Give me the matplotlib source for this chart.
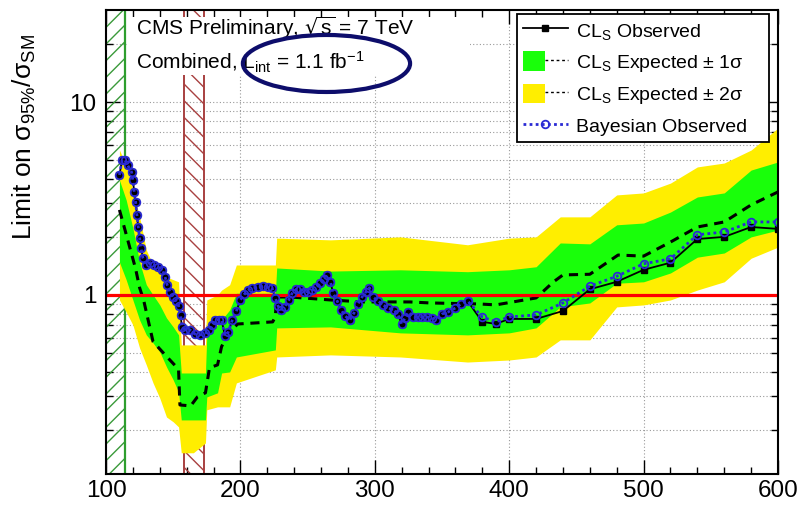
import matplotlib
matplotlib.use("Agg")
import matplotlib.pyplot as plt
from matplotlib.patches import Patch, Ellipse, Rectangle
from matplotlib.lines import Line2D
from matplotlib.legend_handler import HandlerTuple
from matplotlib.ticker import FixedLocator, NullFormatter, FixedFormatter

plt.rcParams['font.family'] = ['Liberation Sans', 'DejaVu Sans']
plt.rcParams['mathtext.default'] = 'regular'
plt.rcParams['hatch.linewidth'] = 1.0

# expected median limit
exp_mass = [110, 114, 118, 122, 125, 128, 131, 135, 144, 153, 154, 155, 163,
            168, 174, 177, 183, 186, 192, 198, 224, 226, 227, 237, 267, 291,
            326, 341, 378, 390, 420, 433, 440, 460, 481, 500, 520, 540, 560,
            580, 600]
exp_limit = [2.76, 2.19, 1.73, 1.37, 1.09, 0.94, 0.76, 0.573, 0.489, 0.419,
             0.409, 0.269, 0.266, 0.296, 0.311, 0.419, 0.434, 0.540, 0.645,
             0.707, 0.725, 0.77, 0.976, 0.976, 0.942, 0.92, 0.92, 0.909,
             0.898, 0.888, 0.965, 1.17, 1.27, 1.28, 1.61, 1.59, 1.88, 2.25,
             2.39, 2.93, 3.42]

# +-1 sigma / +-2 sigma bands
band_mass = [110, 115, 120, 125, 130, 135, 140, 145, 150, 154, 156, 165, 174,
             175, 183, 186, 192, 197, 226, 227, 267, 319, 369, 400, 420, 438,
             460, 480, 500, 520, 540, 560, 580, 600]
band_hi2 = [5.64, 4.72, 3.50, 2.54, 1.71, 1.43, 1.33, 1.24, 1.20, 1.17, 0.551,
            0.551, 0.551, 0.942, 1.00, 1.06, 1.13, 1.43, 1.43, 1.97, 1.93,
            2.00, 1.82, 1.97, 2.00, 2.54, 2.54, 3.30, 3.38, 3.80, 4.61, 4.83,
            5.64, 7.33]
band_hi1 = [3.94, 3.11, 2.22, 1.48, 1.13, 1.00, 0.888, 0.760, 0.683, 0.621,
            0.394, 0.394, 0.394, 0.621, 0.699, 0.742, 0.836, 1.02, 1.02, 1.38,
            1.33, 1.35, 1.32, 1.35, 1.40, 1.86, 1.84, 2.31, 2.36, 2.69, 3.22,
            3.38, 4.44, 4.89]
band_lo1 = [1.48, 1.20, 0.942, 0.742, 0.621, 0.564, 0.507, 0.424, 0.363,
            0.314, 0.225, 0.225, 0.225, 0.296, 0.311, 0.394, 0.399, 0.477,
            0.519, 0.675, 0.683, 0.636, 0.621, 0.636, 0.675, 0.867, 0.909,
            1.15, 1.17, 1.30, 1.57, 1.65, 2.00, 2.17]
band_lo2 = [0.942, 0.816, 0.699, 0.531, 0.434, 0.350, 0.292, 0.233, 0.220,
            0.207, 0.152, 0.152, 0.171, 0.254, 0.263, 0.263, 0.263, 0.350,
            0.409, 0.477, 0.489, 0.477, 0.449, 0.460, 0.477, 0.585, 0.585,
            0.867, 0.888, 0.942, 1.06, 1.17, 1.55, 1.77]

# observed CLs limit
obs_mass = [110, 112, 114, 116, 119, 120, 121, 122, 123, 124, 125, 126, 127.5,
            130, 133, 136, 139, 142, 144, 145.5, 147.5, 150, 152, 154, 155.5,
            156.5, 159, 162.5, 166, 170, 174, 176.5, 179, 181, 184, 186,
            188.5, 191, 194, 197, 200, 203, 206, 209, 213, 217, 220.5, 223.5,
            226, 228, 230, 233, 236, 238.5, 241.5, 244.5, 247.5, 250.5, 253.5,
            256.5, 259, 262, 264.5, 267, 269, 272, 275, 278, 281.5, 284.5,
            287.5, 290.5, 293.5, 296, 298.5, 302.5, 306, 310, 314, 317, 320,
            322.5, 325, 328.5, 332, 335, 339, 342.5, 345.5, 350, 354.5, 360,
            364, 369, 380, 390, 400, 420, 440, 460, 480, 500, 520, 540, 560,
            580, 600]
obs_limit = [4.19, 5.01, 5.01, 4.72, 4.34, 3.94, 3.42, 3.03, 2.60, 2.25, 1.97,
             1.75, 1.55, 1.43, 1.47, 1.43, 1.40, 1.35, 1.24, 1.13, 1.04, 0.976,
             0.931, 0.877, 0.788, 0.683, 0.659, 0.659, 0.628, 0.621, 0.636,
             0.659, 0.699, 0.742, 0.742, 0.742, 0.613, 0.643, 0.742, 0.826,
             0.942, 1.01, 1.06, 1.09, 1.10, 1.11, 1.10, 1.09, 0.965, 0.877,
             0.836, 0.867, 0.942, 1.02, 1.07, 1.07, 1.04, 1.04, 1.06, 1.10,
             1.15, 1.21, 1.27, 1.17, 1.02, 0.931, 0.836, 0.778, 0.742, 0.807,
             0.898, 0.976, 1.04, 1.09, 0.976, 0.931, 0.888, 0.856, 0.836,
             0.797, 0.708, 0.760, 0.816, 0.769, 0.769, 0.769, 0.769, 0.760,
             0.742, 0.797, 0.816, 0.856, 0.898, 0.931, 0.725, 0.708, 0.751,
             0.751, 0.826, 1.07, 1.17, 1.35, 1.47, 1.95, 2.00, 2.25, 2.20]

# bayesian limit: same scan as CLs below 370 GeV, coarser points above
bayes_high_mass = [380, 390, 400, 420, 440, 460, 480, 500, 520, 540, 560, 580, 600]
bayes_high_limit = [0.769, 0.725, 0.769, 0.788, 0.909, 1.11, 1.25, 1.45, 1.54,
                    2.05, 2.12, 2.39, 2.39]
n_low = len(obs_mass) - len(bayes_high_mass)
bayes_mass = obs_mass[:n_low] + bayes_high_mass
bayes_limit = obs_limit[:n_low] + bayes_high_limit

lep_limit = 114.4
tevatron_excl = (158, 173)

yellow = '#ffee00'
green = '#19ff0a'
blue = '#2a2ad4'

fig = plt.figure(figsize=(8, 5.05), dpi=100)
ax = fig.add_axes([0.1325, 0.0614, 0.84, 0.9188])
ax.set_yscale('log')
ax.set_xlim(100, 600)
ax.set_ylim(0.118, 30)

# excluded regions
ax.axvspan(100, lep_limit, facecolor='none', edgecolor='#3a9a3a',
           hatch='//', lw=0, zorder=1)
ax.axvline(lep_limit, color='#2e9e2e', lw=1.6, zorder=1)
ax.axvspan(tevatron_excl[0], tevatron_excl[1], facecolor='none',
           edgecolor='#a84040', hatch='\\\\', lw=0, zorder=1)
for xe in tevatron_excl:
    ax.axvline(xe, color='#a84040', lw=1.4, zorder=1)

# white box behind the header text
ax.add_patch(Rectangle((0.0313, 0.860), 0.51, 0.125, transform=ax.transAxes,
                       facecolor='white', edgecolor='none', zorder=1.5))

ax.fill_between(band_mass, band_lo2, band_hi2, color=yellow, lw=0, zorder=2)
ax.fill_between(band_mass, band_lo1, band_hi1, color=green, lw=0, zorder=2.1)
ax.plot(exp_mass, exp_limit, color='black', lw=2.2, ls=(0, (3, 2.2)), zorder=3)
ax.axhline(1.0, color='#ff0000', lw=2.3, zorder=4)
ax.plot(obs_mass, obs_limit, color='black', lw=1.3, marker='s', ms=5,
        zorder=5)
ax.plot(bayes_mass, bayes_limit, color=blue, lw=2.0, ls=(0, (1, 1.2)),
        marker='o', ms=5.5, mfc='none', mec=blue, mew=1.3, zorder=6)

# axes and grid
ax.xaxis.set_major_locator(FixedLocator([100, 200, 300, 400, 500, 600]))
ax.xaxis.set_minor_locator(FixedLocator(list(range(100, 601, 20))))
ax.yaxis.set_major_locator(FixedLocator([1, 10]))
ax.yaxis.set_major_formatter(FixedFormatter(['1', '10']))
yminor = [0.2, 0.3, 0.4, 0.5, 0.6, 0.7, 0.8, 0.9,
          2, 3, 4, 5, 6, 7, 8, 9, 20]
ax.yaxis.set_minor_locator(FixedLocator(yminor))
ax.yaxis.set_minor_formatter(NullFormatter())
ax.tick_params(which='both', direction='in', top=True, right=True,
               labelsize=17.5, width=1.0, color='black')
ax.tick_params(which='major', length=10)
ax.tick_params(axis='x', which='major', pad=4)
ax.tick_params(axis='y', which='major', pad=7)
ax.tick_params(which='minor', length=5)
ax.set_axisbelow(True)
ax.xaxis.grid(True, which='major', color='#999999', lw=0.8, ls=(0, (1, 2)))
ax.yaxis.grid(True, which='both', color='#999999', lw=0.8, ls=(0, (1, 2)))
for sp in ax.spines.values():
    sp.set_linewidth(1.5)
    sp.set_zorder(9)

fig.text(0.031, 0.728, r'Limit on $\sigma_{95\%}/\sigma_{SM}$', rotation=90,
         ha='center', va='center', fontsize=19)

ax.text(0.044, 0.946, r'CMS Preliminary, $\sqrt{s}$ = 7 TeV',
        transform=ax.transAxes, fontsize=15, va='baseline', zorder=7)
ax.text(0.044, 0.871, r'Combined, $L_{int}$ = 1.1 fb$^{-1}$',
        transform=ax.transAxes, fontsize=15, va='baseline', zorder=7)

fig.add_artist(Ellipse((0.4081, 0.8743), 0.209, 0.1129,
                       transform=fig.transFigure, facecolor='none',
                       edgecolor='#0d0d6b', lw=3.0, zorder=20))

handles = [
    Line2D([], [], color='black', lw=1.3, marker='s', ms=5),
    (Patch(facecolor=green, edgecolor='none'),
     Line2D([], [], color='black', lw=1.0, ls=(0, (2, 2)))),
    (Patch(facecolor=yellow, edgecolor='none'),
     Line2D([], [], color='black', lw=1.0, ls=(0, (2, 2)))),
    Line2D([], [], color=blue, lw=2.0, ls=(0, (1, 1.2)), marker='o', ms=5.5,
           mfc='none', mec=blue, mew=1.3),
]
labels = [r'CL$_S$ Observed', r'CL$_S$ Expected ± 1σ',
          r'CL$_S$ Expected ± 2σ', 'Bayesian Observed']
leg = ax.legend(handles, labels, loc='upper left',
                bbox_to_anchor=(0.6116, 0.709, 0.375, 0.282), mode='expand',
                fontsize=14, frameon=True, fancybox=False, framealpha=1,
                edgecolor='black', handlelength=2.3, handleheight=1.2,
                handletextpad=0.45, labelspacing=0.5, borderpad=0.3,
                borderaxespad=0,
                handler_map={tuple: HandlerTuple(ndivide=None, pad=0)})
leg.get_frame().set_linewidth(1.3)
leg.set_zorder(30)

fig.savefig('out.png', dpi=100)
